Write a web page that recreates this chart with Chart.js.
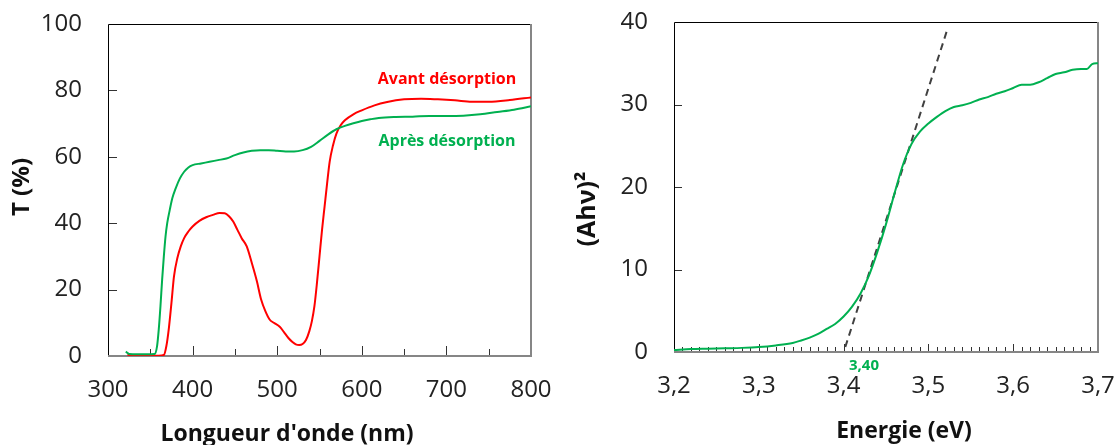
<!DOCTYPE html>
<html>
<head>
<meta charset="utf-8">
<script src="https://cdn.jsdelivr.net/npm/chart.js@4.4.1/dist/chart.umd.min.js"></script>
<style>
  html, body { margin: 0; padding: 0; background: #fff; overflow: hidden; }
  body { width: 1116px; height: 445px; position: relative; }
  canvas { position: absolute; top: 0; }
  #gauche { left: 0; }
  #droite { left: 560px; }
</style>
</head>
<body>
<canvas id="gauche" width="560" height="445"></canvas>
<canvas id="droite" width="600" height="445"></canvas>
<script>
// ---- données ----
// transmission avant désorption (rouge)
const lambdaAvant = [323, 330, 340, 350, 360, 366, 369, 372, 375, 378, 382, 386, 390, 395, 400, 408, 416, 424, 432, 438,
  443, 448, 453, 458, 464, 470, 476, 481, 486, 491, 496, 503, 508, 513, 518, 522, 526, 530, 534, 538,
  541, 544, 547, 550, 553, 556, 559, 562, 566, 570, 575, 580, 590, 600, 615, 630, 650, 670, 690, 710,
  730, 750, 775, 800];
const tAvant = [0.4, 0.2, 0.1, 0.1, 0.1, 0.3, 3, 8.5, 16, 24, 29.5, 33, 35.5, 37.5, 39, 40.7, 41.8, 42.5, 43.1, 43,
  42.1, 40.5, 38, 35.5, 33, 28, 22.5, 17, 13.5, 11, 10, 8.8, 7.2, 5.5, 4.2, 3.5, 3.3, 3.6, 4.8, 7.5,
  10.5, 15, 22, 30, 38, 45, 52, 58.5, 63.5, 67, 69.5, 71, 72.8, 74, 75.5, 76.5, 77.3, 77.5, 77.3, 77,
  76.6, 76.6, 77.1, 77.9];

// transmission après désorption (vert)
const lambdaApres = [321, 325, 335, 345, 355, 358, 360, 362, 364, 366, 368, 370, 373, 376, 380, 385, 390, 395, 400, 410,
  420, 430, 440, 450, 460, 470, 480, 490, 500, 510, 520, 530, 540, 550, 560, 570, 580, 590, 600, 610,
  620, 640, 660, 680, 700, 720, 740, 760, 780, 800];
const tApres = [1.3, 0.6, 0.5, 0.5, 0.6, 3, 8, 15, 23, 30, 36, 40, 44, 47.5, 50.5, 53.5, 55.5, 56.8, 57.5, 58,
  58.5, 59, 59.5, 60.5, 61.3, 61.8, 62, 62, 61.8, 61.6, 61.6, 62, 63, 64.8, 66.7, 68.3, 69.3, 70.1, 70.8, 71.3,
  71.7, 72, 72.1, 72.3, 72.3, 72.4, 72.8, 73.5, 74.2, 75.2];

// (Ahv)^2 en fonction de l'énergie
const energie = [3.20, 3.22, 3.24, 3.26, 3.28, 3.30, 3.32, 3.34, 3.35, 3.36, 3.37, 3.38, 3.39, 3.40, 3.41, 3.42, 3.43, 3.44, 3.45, 3.46,
  3.47, 3.48, 3.49, 3.50, 3.51, 3.52, 3.53, 3.54, 3.55, 3.56, 3.57, 3.58, 3.59, 3.60, 3.61, 3.62, 3.63, 3.64, 3.65, 3.66,
  3.67, 3.68, 3.687, 3.693, 3.70];
const ahv2 = [0.25, 0.35, 0.4, 0.45, 0.5, 0.6, 0.8, 1.1, 1.4, 1.75, 2.2, 2.8, 3.4, 4.3, 5.5, 7.1, 9.3, 12.2, 15.5, 19.2,
  22.7, 25.2, 26.7, 27.7, 28.5, 29.2, 29.7, 29.9, 30.2, 30.6, 30.9, 31.3, 31.6, 32.0, 32.4, 32.4, 32.7, 33.2, 33.7, 33.9,
  34.2, 34.3, 34.3, 34.9, 35.0];

// tangente (pointillés)
const tangenteE = [3.402, 3.522];
const tangenteY = [0.6, 39];

// graduations
const lambdaTicks = [300, 400, 500, 600, 700, 800];
const tTicks = [0, 20, 40, 60, 80, 100];
const energieTicks = ['3,2', '3,3', '3,4', '3,5', '3,6', '3,7'];
const ahvTicks = [0, 10, 20, 30, 40];

const ROUGE = '#ff0000';
const VERT = '#00b050';
const TICK_FONT = { family: 'Open Sans', size: 24 };

function pts(xs, ys) {
  return xs.map((x, i) => ({ x: x, y: ys[i] }));
}

// taille fixe des axes, sans marge ajoutée pour les étiquettes
function fixX(h) {
  return s => { s.height = h; s.paddingLeft = 0; s.paddingRight = 0; };
}
function fixY(w) {
  return s => { s.width = w; s.paddingTop = 0; s.paddingBottom = 0; };
}

// cadre + petites graduations intérieures + textes
function cadrePlugin(cfg) {
  return {
    id: 'cadre',
    beforeDatasetsDraw(chart) {
      const ctx = chart.ctx;
      const a = chart.chartArea;
      const sx = chart.scales.x;
      const sy = chart.scales.y;
      ctx.save();
      ctx.strokeStyle = '#333';
      ctx.lineWidth = 1;
      // graduations x
      for (let v = cfg.xMin; v <= cfg.xMax + 1e-9; v += cfg.xMinor) {
        const px = Math.round(sx.getPixelForValue(v)) + 0.5;
        const k = Math.round((v - cfg.xMin) / cfg.xMinor);
        const len = (k % cfg.xMajorEvery === 0) ? cfg.xMajorLen : cfg.xMinorLen;
        ctx.beginPath();
        ctx.moveTo(px, a.bottom);
        ctx.lineTo(px, a.bottom - len);
        ctx.stroke();
      }
      // graduations y
      cfg.yTickVals.forEach(v => {
        const py = Math.round(sy.getPixelForValue(v)) + 0.5;
        ctx.beginPath();
        ctx.moveTo(a.left, py);
        ctx.lineTo(a.left + cfg.yLen, py);
        ctx.stroke();
      });
      // cadre : haut et gauche noirs, bas et droite gris
      ctx.lineWidth = 1;
      ctx.strokeStyle = '#000';
      ctx.beginPath();
      ctx.moveTo(a.left + 0.5, a.bottom);
      ctx.lineTo(a.left + 0.5, a.top + 0.5);
      ctx.lineTo(a.right, a.top + 0.5);
      ctx.stroke();
      ctx.lineWidth = 2;
      ctx.strokeStyle = '#868686';
      ctx.beginPath();
      ctx.moveTo(a.left, a.bottom);
      ctx.lineTo(a.right, a.bottom);
      ctx.lineTo(a.right, a.top);
      ctx.stroke();
      ctx.restore();
    },
    afterDraw(chart) {
      const ctx = chart.ctx;
      cfg.texts.forEach(t => {
        ctx.save();
        ctx.font = t.font;
        ctx.fillStyle = t.color;
        ctx.textAlign = 'center';
        ctx.textBaseline = 'middle';
        ctx.translate(t.x, t.y);
        if (t.rot) ctx.rotate(t.rot);
        ctx.fillText(t.text, 0, 0);
        ctx.restore();
      });
    }
  };
}

const commonLine = {
  showLine: true,
  pointRadius: 0,
  borderWidth: 2,
  fill: false,
  cubicInterpolationMode: 'monotone'
};

// ---------- graphique de gauche : transmission ----------
new Chart(document.getElementById('gauche'), {
  type: 'scatter',
  data: {
    datasets: [
      Object.assign({ label: 'Après désorption', data: pts(lambdaApres, tApres), borderColor: VERT }, commonLine),
      Object.assign({ label: 'Avant désorption', data: pts(lambdaAvant, tAvant), borderColor: ROUGE }, commonLine)
    ]
  },
  options: {
    responsive: false,
    animation: false,
    layout: { padding: { top: 24, right: 29, left: 0, bottom: 0 } },
    plugins: { legend: { display: false }, tooltip: { enabled: false } },
    scales: {
      x: {
        type: 'linear', min: 300, max: 800,
        afterBuildTicks: s => { s.ticks = lambdaTicks.map(v => ({ value: v })); },
        grid: { display: false, drawTicks: false },
        border: { display: false },
        ticks: { font: TICK_FONT, color: '#222', padding: 20, maxRotation: 0 },
        afterFit: fixX(89)
      },
      y: {
        min: 0, max: 100,
        afterBuildTicks: s => { s.ticks = tTicks.map(v => ({ value: v })); },
        grid: { display: false, drawTicks: false },
        border: { display: false },
        ticks: { font: TICK_FONT, color: '#222', padding: 26 },
        afterFit: fixY(108)
      }
    }
  },
  plugins: [cadrePlugin({
    xMin: 300, xMax: 800, xMinor: 50, xMajorEvery: 2, xMajorLen: 10, xMinorLen: 7,
    yTickVals: [20, 40, 60, 80], yLen: 9,
    texts: [
      { text: "Longueur d'onde (nm)", x: 287, y: 434, font: 'bold 23px "Open Sans"', color: '#111' },
      { text: 'T (%)', x: 22, y: 187, rot: -Math.PI / 2, font: 'bold 24px "Open Sans"', color: '#111' },
      { text: 'Avant désorption', x: 447, y: 79, font: 'bold 16px "Open Sans"', color: ROUGE },
      { text: 'Après désorption', x: 447, y: 141, font: 'bold 16px "Open Sans"', color: VERT }
    ]
  })]
});

// ---------- graphique de droite : (Ahv)^2 ----------
new Chart(document.getElementById('droite'), {
  type: 'scatter',
  data: {
    datasets: [
      Object.assign({ label: '(Ahν)²', data: pts(energie, ahv2), borderColor: VERT }, commonLine),
      {
        label: 'tangente', data: pts(tangenteE, tangenteY), showLine: true, pointRadius: 0,
        borderColor: '#404040', borderWidth: 2, borderDash: [7, 5], fill: false
      }
    ]
  },
  options: {
    responsive: false,
    animation: false,
    layout: { padding: { top: 22, right: 62, left: 0, bottom: 0 } },
    plugins: { legend: { display: false }, tooltip: { enabled: false } },
    scales: {
      x: {
        type: 'linear', min: 3.2, max: 3.7,
        afterBuildTicks: s => { s.ticks = energieTicks.map((t, i) => ({ value: 3.2 + i * 0.1 })); },
        grid: { display: false, drawTicks: false },
        border: { display: false },
        ticks: {
          font: TICK_FONT, color: '#222', padding: 20, maxRotation: 0,
          callback: (v, i) => energieTicks[i]
        },
        afterFit: fixX(93)
      },
      y: {
        min: 0, max: 40,
        afterBuildTicks: s => { s.ticks = ahvTicks.map(v => ({ value: v })); },
        grid: { display: false, drawTicks: false },
        border: { display: false },
        ticks: { font: TICK_FONT, color: '#222', padding: 26 },
        afterFit: fixY(114)
      }
    }
  },
  plugins: [cadrePlugin({
    xMin: 3.2, xMax: 3.7, xMinor: 0.01, xMajorEvery: 10, xMajorLen: 8, xMinorLen: 5,
    yTickVals: [10, 20, 30], yLen: 8,
    texts: [
      { text: 'Energie (eV)', x: 344, y: 431, font: 'bold 23px "Open Sans"', color: '#111' },
      { text: '(Ahν)²', x: 28, y: 209, rot: -Math.PI / 2, font: 'bold 25px "Open Sans"', color: '#111' },
      { text: '3,40', x: 304, y: 366, font: 'bold 15px "Open Sans"', color: VERT }
    ]
  })]
});
</script>
</body>
</html>
